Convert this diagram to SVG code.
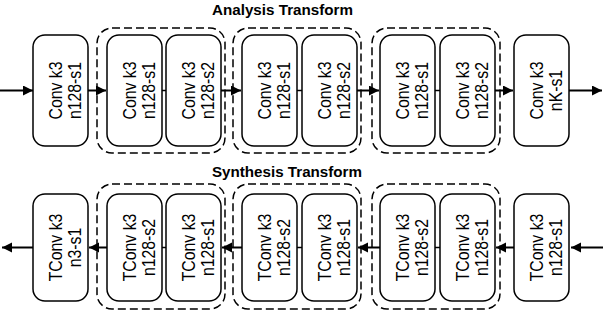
<svg xmlns="http://www.w3.org/2000/svg" width="603" height="312" viewBox="0 0 603 312">
<style>
.bg{fill:#ffffff}
.box{fill:#ffffff;stroke:#000000;stroke-width:1.5}
.grp{fill:none;stroke:#000000;stroke-width:1.5;stroke-dasharray:8 4}
.lbl{font-family:"Liberation Sans",Arial,sans-serif;font-size:18px;fill:#000000;text-anchor:middle}
.title{font-family:"Liberation Sans",Arial,sans-serif;font-size:15.5px;font-weight:bold;fill:#000000}
.arr{stroke:#000000;stroke-width:2;fill:none;marker-end:url(#ah)}
.lnk{stroke:#000000;stroke-width:1.5;fill:none}
</style>
<defs>
<marker id="ah" markerUnits="userSpaceOnUse" markerWidth="11" markerHeight="11" refX="10" refY="5" orient="auto">
<path d="M0,0 L10,5 L0,10 z" fill="#000000"/>
</marker>
</defs>
<rect class="bg" x="0" y="0" width="603" height="312"/>
<text class="title" x="212" y="15" textLength="141" lengthAdjust="spacingAndGlyphs">Analysis Transform</text>
<text class="title" x="212" y="177" textLength="150" lengthAdjust="spacingAndGlyphs">Synthesis Transform</text>

<g id="groups">
<rect class="grp" x="97" y="28" width="128" height="125" rx="15"/>
<rect class="grp" x="233" y="28" width="128" height="125" rx="15"/>
<rect class="grp" x="372" y="28" width="128" height="125" rx="15"/>
<rect class="grp" x="97" y="184" width="128" height="125" rx="15"/>
<rect class="grp" x="233" y="184" width="128" height="125" rx="15"/>
<rect class="grp" x="372" y="184" width="128" height="125" rx="15"/>
</g>

<g id="connectors">
<line class="arr" x1="0" y1="90.5" x2="33" y2="90.5"/>
<line class="arr" x1="88" y1="90.5" x2="106" y2="90.5"/>
<line class="lnk" x1="162" y1="90.5" x2="166" y2="90.5"/>
<line class="arr" x1="221" y1="90.5" x2="241" y2="90.5"/>
<line class="lnk" x1="297" y1="90.5" x2="302" y2="90.5"/>
<line class="arr" x1="357" y1="90.5" x2="379" y2="90.5"/>
<line class="lnk" x1="435" y1="90.5" x2="440" y2="90.5"/>
<line class="arr" x1="495" y1="90.5" x2="513" y2="90.5"/>
<line class="arr" x1="569" y1="90.5" x2="602" y2="90.5"/>

<line class="arr" x1="603" y1="247.5" x2="571" y2="247.5"/>
<line class="arr" x1="514" y1="247.5" x2="496" y2="247.5"/>
<line class="lnk" x1="440" y1="247.5" x2="435" y2="247.5"/>
<line class="arr" x1="380" y1="247.5" x2="358" y2="247.5"/>
<line class="lnk" x1="302" y1="247.5" x2="297" y2="247.5"/>
<line class="arr" x1="242" y1="247.5" x2="222" y2="247.5"/>
<line class="lnk" x1="166" y1="247.5" x2="162" y2="247.5"/>
<line class="arr" x1="107" y1="247.5" x2="89" y2="247.5"/>
<line class="arr" x1="33" y1="247.5" x2="2" y2="247.5"/>
</g>

<g id="a1"><rect class="box" x="33" y="35" width="55" height="111" rx="12"/>
<text class="lbl" transform="translate(60.5,90.5) rotate(-90) scale(0.88,1)"><tspan x="0" y="1">Conv k3</tspan><tspan x="0" y="21">n128-s1</tspan></text></g>
<g id="a2"><rect class="box" x="107" y="35" width="55" height="111" rx="12"/>
<text class="lbl" transform="translate(134.5,90.5) rotate(-90) scale(0.88,1)"><tspan x="0" y="1">Conv k3</tspan><tspan x="0" y="21">n128-s1</tspan></text></g>
<g id="a3"><rect class="box" x="166" y="35" width="55" height="111" rx="12"/>
<text class="lbl" transform="translate(193.5,90.5) rotate(-90) scale(0.88,1)"><tspan x="0" y="1">Conv k3</tspan><tspan x="0" y="21">n128-s2</tspan></text></g>
<g id="a4"><rect class="box" x="242" y="35" width="55" height="111" rx="12"/>
<text class="lbl" transform="translate(269.5,90.5) rotate(-90) scale(0.88,1)"><tspan x="0" y="1">Conv k3</tspan><tspan x="0" y="21">n128-s1</tspan></text></g>
<g id="a5"><rect class="box" x="302" y="35" width="55" height="111" rx="12"/>
<text class="lbl" transform="translate(329.5,90.5) rotate(-90) scale(0.88,1)"><tspan x="0" y="1">Conv k3</tspan><tspan x="0" y="21">n128-s2</tspan></text></g>
<g id="a6"><rect class="box" x="380" y="35" width="55" height="111" rx="12"/>
<text class="lbl" transform="translate(407.5,90.5) rotate(-90) scale(0.88,1)"><tspan x="0" y="1">Conv k3</tspan><tspan x="0" y="21">n128-s1</tspan></text></g>
<g id="a7"><rect class="box" x="440" y="35" width="55" height="111" rx="12"/>
<text class="lbl" transform="translate(467.5,90.5) rotate(-90) scale(0.88,1)"><tspan x="0" y="1">Conv k3</tspan><tspan x="0" y="21">n128-s2</tspan></text></g>
<g id="a8"><rect class="box" x="514" y="35" width="55" height="111" rx="12"/>
<text class="lbl" transform="translate(541.5,90.5) rotate(-90) scale(0.88,1)"><tspan x="0" y="1">Conv k3</tspan><tspan x="0" y="21">nK-s1</tspan></text></g>

<g id="s1"><rect class="box" x="33" y="194" width="55" height="107" rx="12"/>
<text class="lbl" transform="translate(60.5,247.5) rotate(-90) scale(0.88,1)"><tspan x="0" y="1">TConv k3</tspan><tspan x="0" y="21">n3-s1</tspan></text></g>
<g id="s2"><rect class="box" x="107" y="194" width="55" height="107" rx="12"/>
<text class="lbl" transform="translate(134.5,247.5) rotate(-90) scale(0.88,1)"><tspan x="0" y="1">TConv k3</tspan><tspan x="0" y="21">n128-s2</tspan></text></g>
<g id="s3"><rect class="box" x="166" y="194" width="55" height="107" rx="12"/>
<text class="lbl" transform="translate(193.5,247.5) rotate(-90) scale(0.88,1)"><tspan x="0" y="1">TConv k3</tspan><tspan x="0" y="21">n128-s1</tspan></text></g>
<g id="s4"><rect class="box" x="242" y="194" width="55" height="107" rx="12"/>
<text class="lbl" transform="translate(269.5,247.5) rotate(-90) scale(0.88,1)"><tspan x="0" y="1">TConv k3</tspan><tspan x="0" y="21">n128-s2</tspan></text></g>
<g id="s5"><rect class="box" x="302" y="194" width="55" height="107" rx="12"/>
<text class="lbl" transform="translate(329.5,247.5) rotate(-90) scale(0.88,1)"><tspan x="0" y="1">TConv k3</tspan><tspan x="0" y="21">n128-s1</tspan></text></g>
<g id="s6"><rect class="box" x="380" y="194" width="55" height="107" rx="12"/>
<text class="lbl" transform="translate(407.5,247.5) rotate(-90) scale(0.88,1)"><tspan x="0" y="1">TConv k3</tspan><tspan x="0" y="21">n128-s2</tspan></text></g>
<g id="s7"><rect class="box" x="440" y="194" width="55" height="107" rx="12"/>
<text class="lbl" transform="translate(467.5,247.5) rotate(-90) scale(0.88,1)"><tspan x="0" y="1">TConv k3</tspan><tspan x="0" y="21">n128-s1</tspan></text></g>
<g id="s8"><rect class="box" x="514" y="194" width="55" height="107" rx="12"/>
<text class="lbl" transform="translate(541.5,247.5) rotate(-90) scale(0.88,1)"><tspan x="0" y="1">TConv k3</tspan><tspan x="0" y="21">n128-s1</tspan></text></g>
</svg>
